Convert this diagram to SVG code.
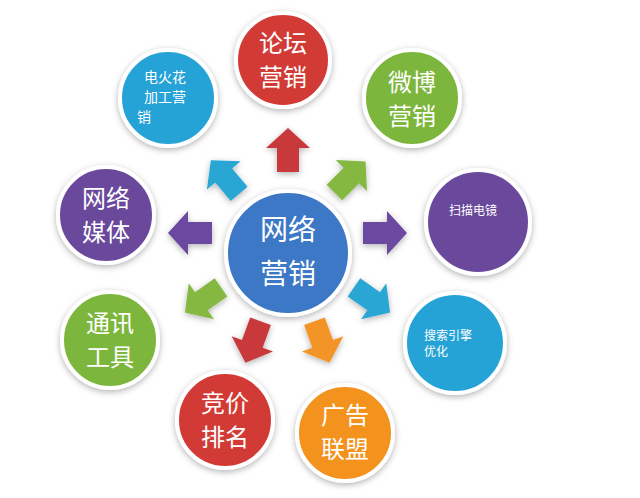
<svg xmlns="http://www.w3.org/2000/svg" width="640" height="498" viewBox="0 0 640 498">
<defs>
<filter id="sh" x="-30%" y="-30%" width="160%" height="160%"><feDropShadow dx="0" dy="2" stdDeviation="3" flood-color="#000" flood-opacity="0.3"/></filter>
<polygon id="ar" points="-22,-11 2,-11 2,-22 22,0 2,22 2,11 -22,11"/>
</defs>
<style>
circle{stroke:#fff;stroke-width:4;filter:url(#sh)}
text{fill:#fff;font-family:"Noto Sans CJK SC",sans-serif;text-anchor:middle}
.b{font-size:24px}.s{font-size:14px}.c{font-size:28px}
</style>
<rect width="640" height="498" fill="#fff"/>
<g id="connectors" filter="url(#sh)">
<use href="#ar" fill="#c9383a" transform="translate(288,150) rotate(-90)"/>
<use href="#ar" fill="#85b83f" transform="translate(350,177) rotate(-45)"/>
<use href="#ar" fill="#6c4aa0" transform="translate(385,233)"/>
<use href="#ar" fill="#2aa6d4" transform="translate(372,300) rotate(35)"/>
<use href="#ar" fill="#f39426" transform="translate(322,342) rotate(70)"/>
<use href="#ar" fill="#c9383a" transform="translate(253,342) rotate(110)"/>
<use href="#ar" fill="#85b83f" transform="translate(203,300) rotate(145)"/>
<use href="#ar" fill="#6c4aa0" transform="translate(190,233) rotate(180)"/>
<use href="#ar" fill="#2aa6d4" transform="translate(225,177) rotate(-130)"/>
</g>
<g id="center"><circle cx="288" cy="253" r="62" fill="#3d78c6"/><text class="c" x="288" y="240">网络</text><text class="c" x="288" y="284">营销</text></g>
<g id="n1"><circle cx="283" cy="60" r="47" fill="#d23a36"/><text class="b" x="283" y="52">论坛</text><text class="b" x="283" y="86">营销</text></g>
<g id="n2"><circle cx="412" cy="98" r="48" fill="#7db63c"/><text class="b" x="412" y="91">微博</text><text class="b" x="412" y="125">营销</text></g>
<g id="n3"><circle cx="478" cy="222" r="52" fill="#6b4a9c"/><text class="s" x="473" y="215" style="font-size:12px">扫描电镜</text></g>
<g id="n4"><circle cx="455" cy="343" r="50" fill="#27a3d6"/><text class="s" x="448" y="340" style="font-size:12px">搜索引擎</text><text class="s" x="424" y="356" style="font-size:12px;text-anchor:start">优化</text></g>
<g id="n5"><circle cx="345" cy="433" r="48" fill="#f3921f"/><text class="b" x="345" y="424">广告</text><text class="b" x="345" y="458">联盟</text></g>
<g id="n6"><circle cx="225" cy="420" r="48" fill="#d23a36"/><text class="b" x="225" y="412">竞价</text><text class="b" x="225" y="446">排名</text></g>
<g id="n7"><circle cx="110" cy="340" r="48" fill="#7db63c"/><text class="b" x="110" y="332">通讯</text><text class="b" x="110" y="366">工具</text></g>
<g id="n8"><circle cx="106" cy="215" r="48" fill="#6b4a9c"/><text class="b" x="106" y="207">网络</text><text class="b" x="106" y="241">媒体</text></g>
<g id="n9"><circle cx="168" cy="98" r="48" fill="#27a3d6"/><text class="s" x="165" y="82">电火花</text><text class="s" x="165" y="102">加工营</text><text class="s" x="137" y="122" style="text-anchor:start">销</text></g>
</svg>
